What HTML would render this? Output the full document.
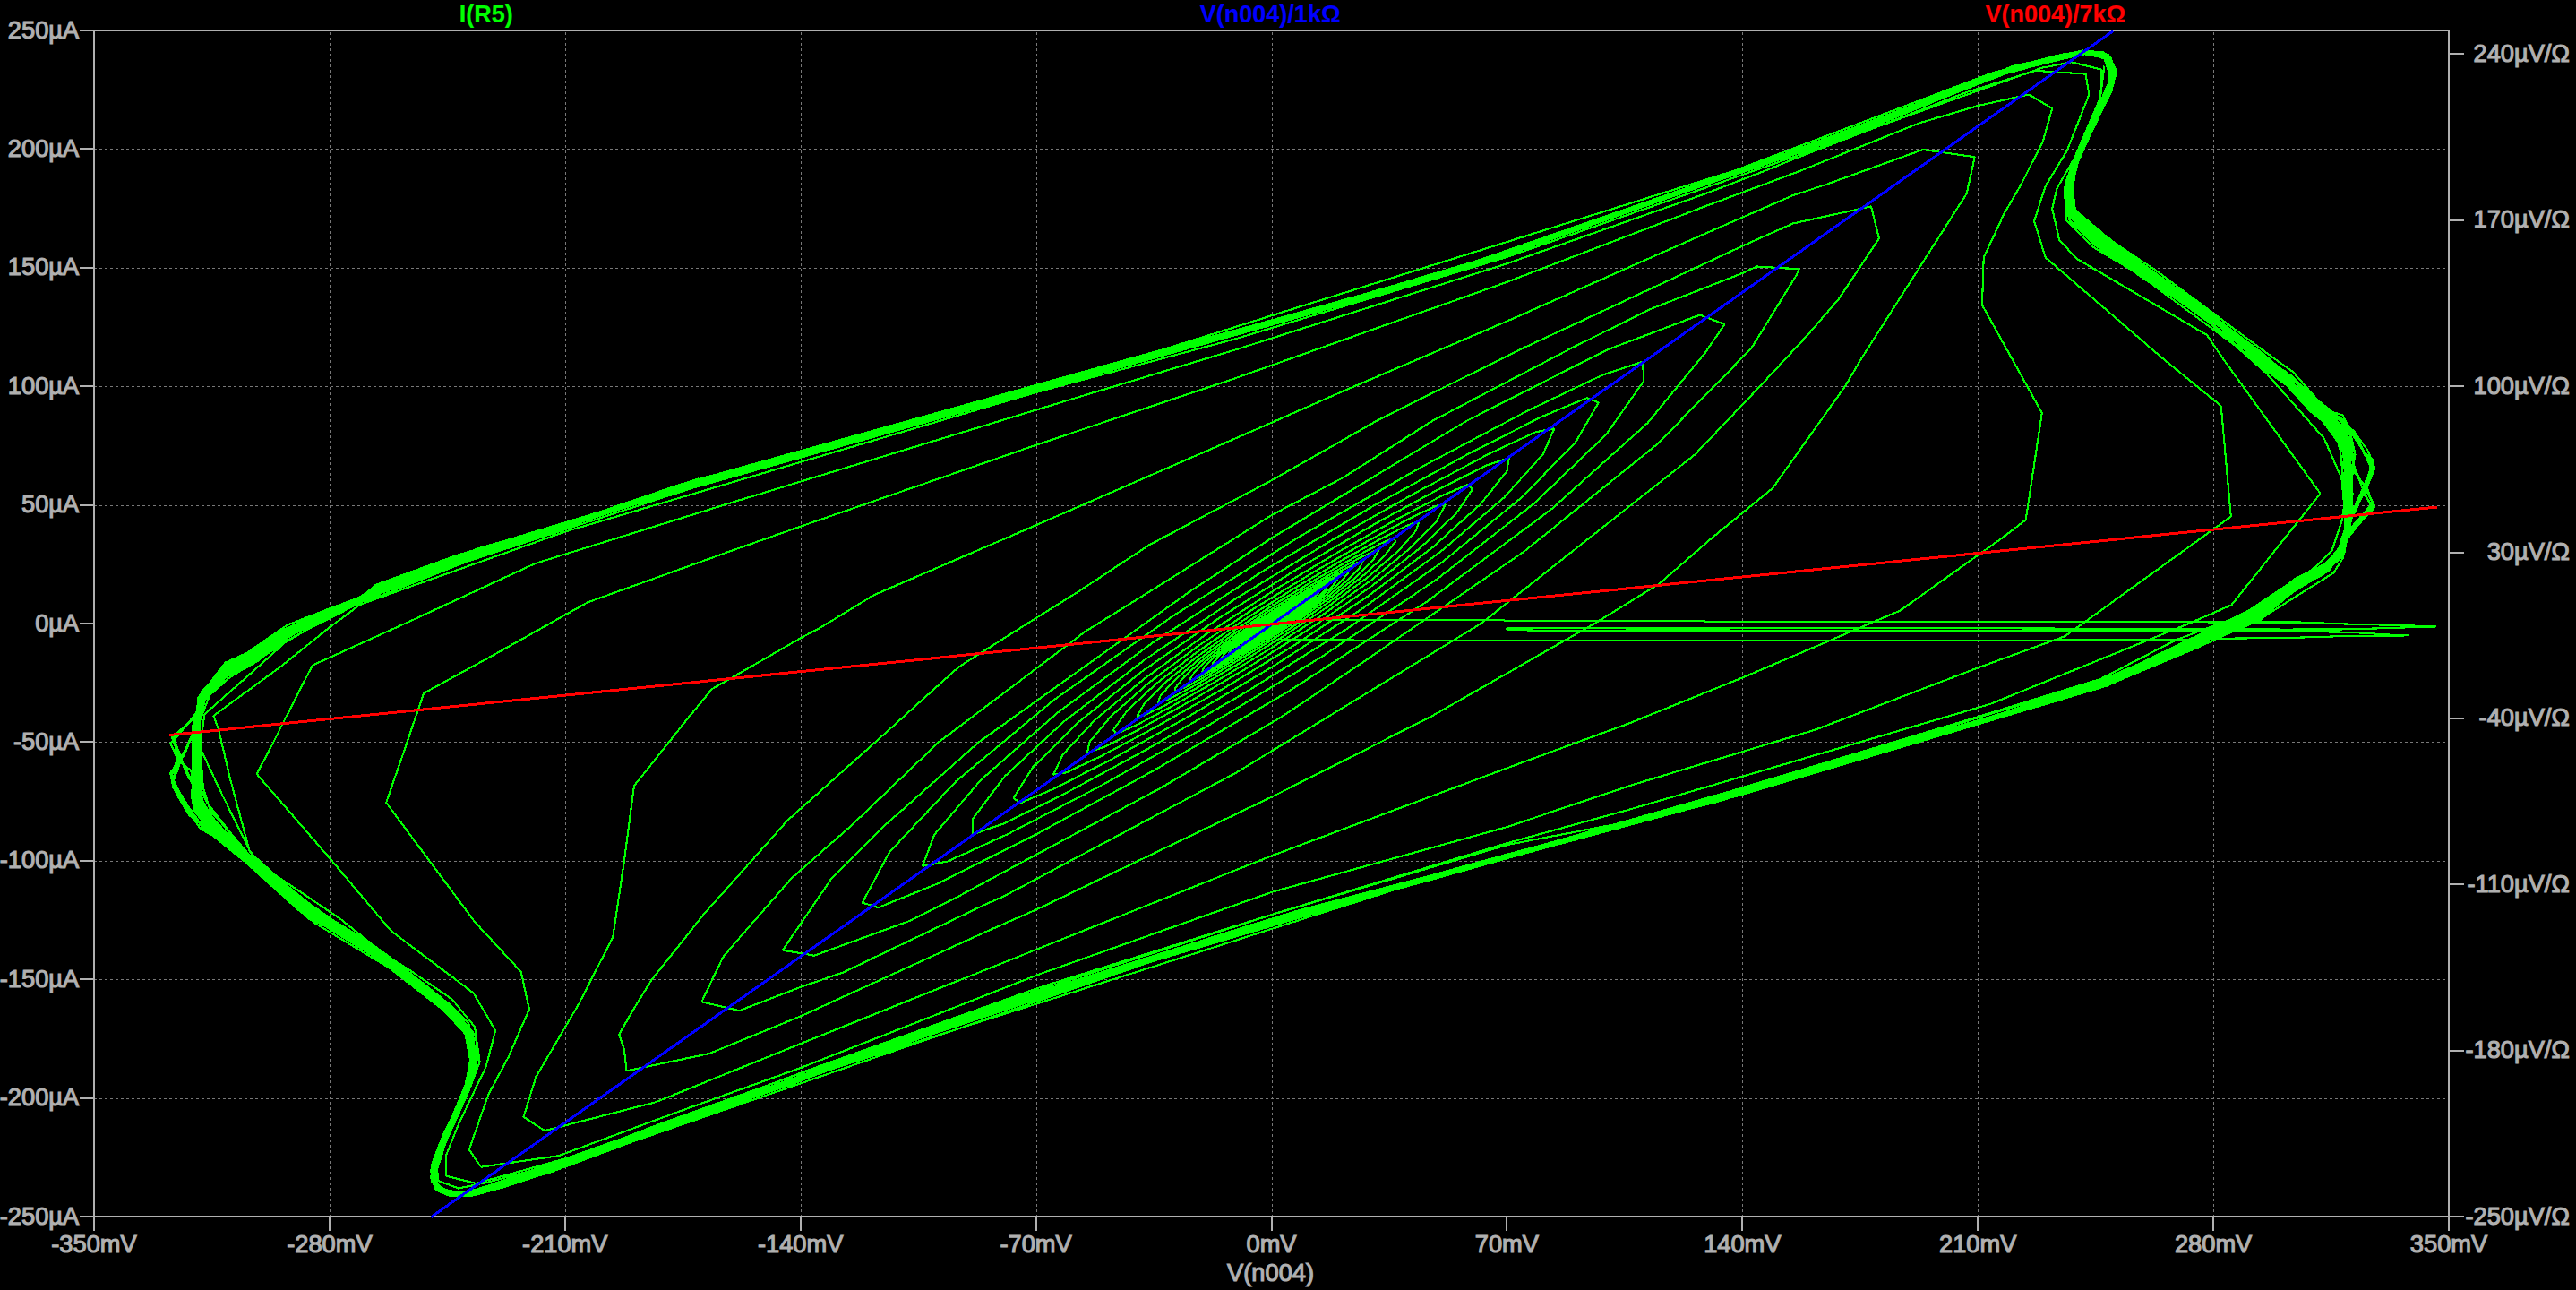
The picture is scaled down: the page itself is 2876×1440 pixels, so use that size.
<!DOCTYPE html>
<html lang="en"><head><meta charset="utf-8"><title>LTspice plot</title>
<style>html,body{margin:0;padding:0;background:#000;overflow:hidden}svg{display:block}text{font-family:"Liberation Sans",Arial,sans-serif;font-size:27.25px;fill:#b0b0b0;stroke:#b0b0b0;stroke-width:1.15px}.b{font-weight:bold;font-size:27px}.g{fill:none;stroke:#00ff00;stroke-width:2.15;stroke-linejoin:bevel;stroke-linecap:butt}</style></head><body>
<svg xmlns="http://www.w3.org/2000/svg" width="2876" height="1440" viewBox="0 0 2876 1440">
<rect width="2876" height="1440" fill="#000"/>
<g stroke="#787878" stroke-width="1" stroke-dasharray="3 3" shape-rendering="crispEdges">
<line x1="368.5" y1="36" x2="368.5" y2="1357"/>
<line x1="631.5" y1="36" x2="631.5" y2="1357"/>
<line x1="894.5" y1="36" x2="894.5" y2="1357"/>
<line x1="1157.5" y1="36" x2="1157.5" y2="1357"/>
<line x1="1420.5" y1="36" x2="1420.5" y2="1357"/>
<line x1="1682.5" y1="36" x2="1682.5" y2="1357"/>
<line x1="1945.5" y1="36" x2="1945.5" y2="1357"/>
<line x1="2208.5" y1="36" x2="2208.5" y2="1357"/>
<line x1="2471.5" y1="36" x2="2471.5" y2="1357"/>
<line x1="105" y1="1226.5" x2="2733" y2="1226.5"/>
<line x1="105" y1="1093.5" x2="2733" y2="1093.5"/>
<line x1="105" y1="961.5" x2="2733" y2="961.5"/>
<line x1="105" y1="828.5" x2="2733" y2="828.5"/>
<line x1="105" y1="696.5" x2="2733" y2="696.5"/>
<line x1="105" y1="564.5" x2="2733" y2="564.5"/>
<line x1="105" y1="431.5" x2="2733" y2="431.5"/>
<line x1="105" y1="299.5" x2="2733" y2="299.5"/>
<line x1="105" y1="166.5" x2="2733" y2="166.5"/>
</g>
<g stroke="#b0b0b0" stroke-width="2" shape-rendering="crispEdges" fill="none">
<rect x="105.0" y="34.0" width="2629.0" height="1324.0"/>
<line x1="89" y1="1358" x2="105" y2="1358"/>
<line x1="89" y1="1226" x2="105" y2="1226"/>
<line x1="89" y1="1093" x2="105" y2="1093"/>
<line x1="89" y1="961" x2="105" y2="961"/>
<line x1="89" y1="828" x2="105" y2="828"/>
<line x1="89" y1="696" x2="105" y2="696"/>
<line x1="89" y1="564" x2="105" y2="564"/>
<line x1="89" y1="431" x2="105" y2="431"/>
<line x1="89" y1="299" x2="105" y2="299"/>
<line x1="89" y1="166" x2="105" y2="166"/>
<line x1="89" y1="34" x2="105" y2="34"/>
<line x1="2734" y1="1358" x2="2751" y2="1358"/>
<line x1="2734" y1="1173" x2="2751" y2="1173"/>
<line x1="2734" y1="987" x2="2751" y2="987"/>
<line x1="2734" y1="802" x2="2751" y2="802"/>
<line x1="2734" y1="617" x2="2751" y2="617"/>
<line x1="2734" y1="431" x2="2751" y2="431"/>
<line x1="2734" y1="246" x2="2751" y2="246"/>
<line x1="2734" y1="60" x2="2751" y2="60"/>
<line x1="105" y1="1358" x2="105" y2="1374"/>
<line x1="368" y1="1358" x2="368" y2="1374"/>
<line x1="631" y1="1358" x2="631" y2="1374"/>
<line x1="894" y1="1358" x2="894" y2="1374"/>
<line x1="1157" y1="1358" x2="1157" y2="1374"/>
<line x1="1420" y1="1358" x2="1420" y2="1374"/>
<line x1="1682" y1="1358" x2="1682" y2="1374"/>
<line x1="1945" y1="1358" x2="1945" y2="1374"/>
<line x1="2208" y1="1358" x2="2208" y2="1374"/>
<line x1="2471" y1="1358" x2="2471" y2="1374"/>
<line x1="2734" y1="1358" x2="2734" y2="1374"/>
</g>
<g class="g" shape-rendering="crispEdges">
<path d="M1421.5 695.3 L1421.4 695.3 L1421.3 695.4 L1421.1 695.6 L1420.8 695.8 L1420.4 696.0 L1420.1 696.2 L1419.8 696.4 L1419.6 696.6 L1419.5 696.7 L1419.4 696.7 L1419.5 696.7 L1419.7 696.6 L1420.0 696.4 L1420.3 696.2 L1420.7 695.9 L1421.0 695.7 L1421.3 695.5 L1421.5 695.3 L1421.6 695.2 L1421.6 695.2 L1421.5 695.3 L1421.3 695.5 L1420.9 695.7 L1420.5 695.9 L1420.2 696.2 L1419.8 696.4 L1419.5 696.6 L1419.3 696.8 L1419.2 696.9 L1419.3 696.8 L1419.5 696.7 L1419.8 696.5 L1420.2 696.3 L1420.6 696.0 L1421.0 695.7 L1421.4 695.5 L1421.7 695.2 L1421.8 695.1 L1421.8 695.1 L1421.7 695.1 L1421.5 695.3 L1421.1 695.5 L1420.7 695.8 L1420.2 696.1 L1419.8 696.4 L1419.4 696.7 L1419.2 696.9 L1419.0 697.0 L1419.1 697.0 L1419.2 696.9 L1419.6 696.7 L1420.0 696.4 L1420.5 696.1 L1421.0 695.8 L1421.4 695.5 L1421.8 695.2 L1422.0 695.0 L1422.1 694.9 L1422.0 695.0 L1421.8 695.1 L1421.4 695.3 L1420.9 695.7 L1420.4 696.0 L1419.8 696.4 L1419.4 696.7 L1419.0 697.0 L1418.8 697.1 L1418.8 697.2 L1418.9 697.1 L1419.3 696.9 L1419.7 696.6 L1420.3 696.2 L1420.9 695.9 L1421.4 695.5 L1421.9 695.1 L1422.2 694.9 L1422.4 694.7 L1422.3 694.7 L1422.1 694.9 L1421.7 695.1 L1421.1 695.5 L1420.5 695.9 L1419.9 696.3 L1419.3 696.7 L1418.9 697.0 L1418.6 697.3 L1418.5 697.4 L1418.6 697.3 L1418.9 697.1 L1419.4 696.8 L1420.0 696.4 L1420.7 696.0 L1421.4 695.5 L1422.0 695.1 L1422.4 694.8 L1422.6 694.6 L1422.7 694.5 L1422.5 694.6 L1422.0 694.9 L1421.4 695.3 L1420.7 695.7 L1420.0 696.2 L1419.3 696.7 L1418.7 697.1 L1418.3 697.4 L1418.1 697.6 L1418.2 697.6 L1418.5 697.4 L1419.0 697.1 L1419.7 696.6 L1420.5 696.1 L1421.3 695.6 L1422.0 695.1 L1422.6 694.7 L1423.0 694.4 L1423.1 694.2 L1422.9 694.3 L1422.5 694.6 L1421.8 695.0 L1421.0 695.5 L1420.2 696.1 L1419.3 696.6 L1418.6 697.2 L1418.1 697.6 L1417.8 697.8 L1417.8 697.9 L1418.0 697.7 L1418.6 697.4 L1419.3 696.9 L1420.2 696.3 L1421.2 695.7 L1422.1 695.1 L1422.8 694.6 L1423.3 694.2 L1423.5 694.0 L1423.4 694.0 L1423.0 694.2 L1422.3 694.7 L1421.4 695.2 L1420.4 695.9 L1419.4 696.5 L1418.5 697.2 L1417.8 697.7 L1417.4 698.1 L1417.3 698.2 L1417.5 698.1 L1418.0 697.8 L1418.9 697.3 L1419.9 696.6 L1421.0 695.9 L1422.0 695.2 L1423.0 694.5 L1423.6 694.0 L1424.0 693.7 L1424.0 693.6 L1423.6 693.8 L1422.9 694.2 L1421.9 694.9 L1420.8 695.6 L1419.6 696.4 L1418.5 697.2 L1417.6 697.8 L1416.9 698.3 L1416.7 698.6 L1416.8 698.6 L1417.4 698.2 L1418.3 697.7 L1419.4 697.0 L1420.7 696.1 L1421.9 695.3 L1423.1 694.5 L1424.0 693.8 L1424.5 693.3 L1424.6 693.2 L1424.3 693.3 L1423.6 693.8 L1422.5 694.4 L1421.2 695.3 L1419.8 696.2 L1418.5 697.1 L1417.3 697.9 L1416.5 698.6 L1416.1 699.0 L1416.1 699.0 L1416.6 698.8 L1417.5 698.2 L1418.8 697.4 L1420.2 696.5 L1421.7 695.5 L1423.1 694.5 L1424.3 693.7 L1425.0 693.0 L1425.3 692.7 L1425.1 692.8 L1424.4 693.2 L1423.3 693.9 L1421.8 694.8 L1420.2 695.9 L1418.6 696.9 L1417.2 698.0 L1416.1 698.8 L1415.4 699.4 L1415.3 699.6 L1415.7 699.4 L1416.6 698.8 L1418.0 698.0 L1419.7 696.9 L1421.4 695.8 L1423.1 694.6 L1424.6 693.5 L1425.6 692.7 L1426.1 692.2 L1426.1 692.1 L1425.4 692.5 L1424.2 693.2 L1422.6 694.2 L1420.7 695.4 L1418.8 696.7 L1417.1 697.9 L1415.6 699.0 L1414.7 699.8 L1414.4 700.2 L1414.7 700.1 L1415.6 699.5 L1417.1 698.6 L1418.9 697.5 L1421.0 696.1 L1423.0 694.8 L1424.8 693.5 L1426.2 692.4 L1427.0 691.7 L1427.1 691.4 L1426.5 691.7 L1425.3 692.5 L1423.6 693.5 L1421.5 694.9 L1419.2 696.4 L1417.1 697.8 L1415.2 699.2 L1414.0 700.2 L1413.3 700.8 L1413.5 700.9 L1414.3 700.4 L1415.9 699.5 L1418.0 698.2 L1420.3 696.7 L1422.7 695.1 L1425.0 693.5 L1426.8 692.1 L1427.9 691.2 L1428.3 690.6 L1427.9 690.8 L1426.7 691.5 L1424.8 692.7 L1422.4 694.2 L1419.8 695.9 L1417.2 697.6 L1414.9 699.2 L1413.2 700.6 L1412.2 701.5 L1412.1 701.8 L1412.9 701.4 L1414.5 700.5 L1416.7 699.1 L1419.4 697.4 L1422.3 695.5 L1425.0 693.6 L1427.3 691.9 L1428.9 690.6 L1429.6 689.8 L1429.4 689.8 L1428.2 690.4 L1426.2 691.6 L1423.6 693.3 L1420.6 695.2 L1417.5 697.3 L1414.7 699.2 L1412.5 700.9 L1411.0 702.2 L1410.6 702.8 L1411.2 702.5 L1412.8 701.6 L1415.2 700.1 L1418.3 698.2 L1421.6 696.1 L1424.9 693.9 L1427.7 691.8 L1429.8 690.1 L1431.0 689.0 L1431.1 688.6 L1430.1 689.2 L1428.0 690.4 L1425.1 692.2 L1421.7 694.4 L1418.1 696.7 L1414.6 699.1 L1411.8 701.2 L1409.8 702.9 L1408.9 703.9 L1409.3 703.9 L1410.8 703.0 L1413.4 701.5 L1416.8 699.4 L1420.6 696.9 L1424.5 694.3 L1428.0 691.8 L1430.8 689.7 L1432.6 688.1 L1433.1 687.4 L1432.2 687.7 L1430.1 688.9 L1427.0 690.8 L1423.1 693.2 L1418.9 696.0 L1414.8 698.8 L1411.2 701.4 L1408.5 703.5 L1407.1 705.0 L1407.1 705.3 L1408.4 704.6 L1411.1 703.0 L1414.9 700.8 L1419.2 698.0 L1423.8 695.0 L1428.1 692.0 L1431.7 689.3 L1434.2 687.2 L1435.2 686.0 L1434.7 686.0 L1432.7 687.2 L1429.3 689.1 L1425.0 691.8 L1420.1 694.9 L1415.2 698.2 L1410.8 701.4 L1407.3 704.1 L1405.1 706.1 L1404.6 707.0 L1405.7 706.5 L1408.4 704.9 L1412.5 702.5 L1417.4 699.4 L1422.8 695.9 L1428.0 692.4 L1432.5 689.1 L1435.8 686.4 L1437.6 684.6 L1437.5 684.2 L1435.7 685.1 L1432.2 687.1 L1427.4 690.0 L1421.8 693.6 L1416.0 697.4 L1410.5 701.2 L1406.1 704.6 L1403.0 707.2 L1401.8 708.8 L1402.6 708.6 L1405.2 707.2 L1409.5 704.6 L1415.1 701.2 L1421.3 697.2 L1427.5 693.1 L1433.1 689.1 L1437.5 685.6 L1440.1 683.1 L1440.7 682.1 L1439.2 682.7 L1435.6 684.7 L1430.4 687.9 L1424.1 691.8 L1417.2 696.2 L1410.7 700.7 L1405.0 704.9 L1400.9 708.3 L1398.8 710.6 L1399.0 711.0 L1401.4 709.8 L1405.9 707.1 L1412.1 703.4 L1419.2 699.0 L1426.6 694.1 L1433.5 689.3 L1439.1 685.0 L1442.8 681.7 L1444.2 679.7 L1443.2 680.0 L1439.7 681.9 L1434.1 685.2 L1427.0 689.5 L1419.1 694.6 L1411.2 699.8 L1404.2 704.9 L1398.7 709.3 L1395.5 712.4 L1394.9 713.7 L1397.0 712.8 L1401.6 710.2 L1408.3 706.2 L1416.4 701.2 L1425.1 695.6 L1433.4 689.9 L1440.5 684.6 L1445.6 680.3 L1448.1 677.5 L1447.8 677.0 L1444.5 678.6 L1438.6 682.0 L1430.8 686.7 L1421.7 692.4 L1412.3 698.5 L1403.6 704.6 L1396.6 710.1 L1392.0 714.3 L1390.4 716.7 L1391.9 716.2 L1396.4 713.8 L1403.6 709.6 L1412.7 704.0 L1422.8 697.7 L1432.8 691.0 L1441.7 684.5 L1448.4 679.0 L1452.3 675.1 L1452.9 673.5 L1450.1 674.8 L1444.1 678.1 L1435.5 683.2 L1425.2 689.6 L1414.2 696.7 L1403.6 703.9 L1394.7 710.6 L1388.4 716.0 L1385.4 719.6 L1386.0 720.2 L1390.3 718.0 L1397.9 713.7 L1408.0 707.6 L1419.6 700.4 L1431.5 692.6 L1442.4 684.9 L1451.2 678.0 L1456.8 672.7 L1458.7 669.7 L1456.6 670.4 L1450.7 673.6 L1441.4 678.9 L1429.7 686.0 L1416.9 694.1 L1404.3 702.6 L1393.1 710.7 L1384.7 717.7 L1380.0 722.7 L1379.4 724.5 L1383.2 722.9 L1391.0 718.5 L1402.1 712.0 L1415.3 703.9 L1429.2 694.9 L1442.5 685.8 L1453.7 677.3 L1461.5 670.4 L1465.2 665.9 L1464.1 665.4 L1458.4 668.2 L1448.6 673.8 L1435.6 681.5 L1420.9 690.7 L1405.8 700.5 L1392.1 710.3 L1381.1 719.0 L1374.1 725.7 L1372.0 729.4 L1374.9 728.5 L1382.7 724.3 L1394.7 717.4 L1409.6 708.5 L1425.8 698.2 L1441.8 687.4 L1455.8 677.1 L1466.3 668.3 L1472.1 662.0 L1472.6 659.8 L1467.5 662.0 L1457.3 667.6 L1443.1 675.9 L1426.3 686.2 L1408.5 697.6 L1391.7 709.2 L1377.7 719.9 L1368.0 728.7 L1363.7 734.4 L1365.4 734.9 L1372.9 731.1 L1385.6 724.0 L1402.2 714.2 L1421.0 702.5 L1440.1 690.0 L1457.4 677.6 L1471.1 666.6 L1479.6 658.0 L1482.1 653.5 L1478.1 654.8 L1467.9 660.2 L1452.5 669.0 L1433.4 680.4 L1412.7 693.5 L1392.4 707.2 L1374.7 720.3 L1361.6 731.5 L1354.5 739.6 L1354.3 742.2 L1361.1 739.2 L1374.3 732.0 L1392.7 721.4 L1414.3 708.2 L1436.9 693.6 L1458.2 678.8 L1475.9 665.1 L1488.0 653.9 L1493.2 646.6 L1490.7 646.3 L1480.7 651.3 L1464.2 660.5 L1442.8 673.1 L1418.7 688.0 L1394.3 704.1 L1372.3 719.9 L1355.1 734.0 L1344.5 744.8 L1341.8 750.4 L1347.4 748.5 L1360.9 741.5 L1380.8 730.1 L1405.3 715.5 L1431.8 698.8 L1457.6 681.4 L1479.8 664.7 L1496.1 650.4 L1504.7 640.2 L1504.5 637.2 L1495.5 641.1 L1478.3 650.4 L1454.7 664.0 L1427.0 680.8 L1398.1 699.4 L1371.1 718.3 L1348.8 735.8 L1333.8 750.1 L1327.6 759.4 L1331.2 759.4 L1344.3 753.0 L1365.8 741.1 L1393.4 724.9 L1424.5 705.8 L1455.6 685.2 L1483.6 664.9 L1505.5 646.7 L1518.7 632.8 L1521.7 625.9 L1513.9 628.6 L1496.2 637.8 L1470.1 652.5 L1438.4 671.4 L1404.2 692.9 L1371.2 715.4 L1342.8 736.8 L1322.3 755.2 L1311.8 768.2 L1312.6 771.7 L1324.9 766.3 L1347.5 754.2 L1378.3 736.5 L1414.0 715.0 L1451.0 691.1 L1485.4 666.9 L1513.5 644.6 L1532.1 626.4 L1539.3 614.6 L1534.0 615.1 L1516.5 623.6 L1488.6 639.0 L1453.0 659.7 L1413.5 684.0 L1374.0 710.1 L1338.8 735.9 L1311.7 758.9 L1295.7 776.5 L1292.7 784.8 L1303.1 781.2 L1326.2 769.3 L1359.6 750.6 L1400.0 726.7 L1443.3 699.6 L1484.8 671.2 L1520.2 644.1 L1545.6 620.8 L1558.1 604.3 L1556.4 600.3 L1540.2 607.3 L1511.1 622.8 L1471.8 645.1 L1426.4 672.4 L1379.5 702.6 L1336.1 733.3 L1301.0 761.8 L1277.8 785.0 L1269.4 799.7 L1276.8 798.8 L1299.6 787.9 L1335.7 768.2 L1381.4 741.8 L1432.1 710.7 L1482.4 677.3 L1527.1 644.3 L1561.3 614.8 L1581.2 592.1 L1584.3 581.9 L1570.1 586.9 L1539.8 602.4 L1496.3 626.5 L1444.1 657.3 L1388.4 692.2 L1335.3 728.7 L1290.3 763.6 L1258.3 793.5 L1243.0 814.7 L1246.3 819.1 L1268.1 809.7 L1306.4 789.5 L1357.4 760.7 L1416.0 725.5 L1476.0 686.8 L1531.2 647.4 L1575.5 611.0 L1604.2 581.3 L1613.8 563.0 L1603.1 564.7 L1572.8 579.2 L1525.9 604.5 L1467.2 638.3 L1402.5 677.8 L1338.8 720.3 L1282.7 762.1 L1240.4 799.5 L1216.5 828.1 L1213.8 840.3 L1233.0 833.7 L1272.3 813.9 L1327.9 783.3 L1394.3 744.5 L1464.4 700.5 L1530.9 654.6 L1586.8 610.6 L1626.0 572.8 L1644.0 546.0 L1638.8 541.0 L1610.4 553.1 L1561.4 578.6 L1496.5 614.8 L1422.4 659.0 L1346.8 707.9 L1277.6 757.6 L1222.3 803.9 L1187.0 841.8 L1175.9 864.6 L1190.5 862.3 L1229.8 843.8 L1290.0 811.8 L1365.2 769.0 L1447.5 718.7 L1528.5 664.6 L1599.5 611.0 L1652.8 562.9 L1682.4 526.0 L1684.7 510.9 L1659.0 519.8 L1607.6 545.3 L1535.4 584.6 L1449.8 634.3 L1359.6 690.9 L1274.2 750.1 L1202.9 807.1 L1153.4 856.1 L1131.4 890.9 L1139.7 896.2 L1177.8 880.0 L1242.4 846.8 L1327.0 799.8 L1423.0 742.8 L1520.3 679.8 L1608.8 615.5 L1678.9 555.7 L1722.8 506.9 L1735.3 478.4 L1714.4 482.3 L1662.1 506.7 L1583.4 548.4 L1486.2 603.4 L1380.6 667.7 L1277.6 736.8 L1188.1 805.2 L1121.9 866.5 L1086.3 913.6 L1085.6 931.5 L1120.3 919.5 L1187.3 886.7 L1280.1 836.7 L1389.1 773.8 L1503.2 702.4 L1610.2 627.5 L1698.8 555.4 L1759.2 493.4 L1784.7 449.3 L1771.9 444.1 L1721.7 465.0 L1638.9 506.9 L1531.8 565.6 L1411.3 636.7 L1290.0 715.2 L1180.8 795.5 L1095.3 870.4 L1043.1 931.8 L1030.0 966.8 L1058.1 961.5 L1124.9 931.2 L1224.1 879.8 L1345.4 812.0 L1476.5 732.6 L1603.6 647.0 L1713.1 561.7 L1793.3 484.9 L1835.1 425.5 L1834.2 403.7 L1789.6 418.4 L1705.1 458.7 L1588.8 520.3 L1452.5 598.1 L1310.3 687.1 L1177.2 780.9 L1067.5 872.0 L993.2 951.0 L962.8 1007.6 L980.5 1013.1 L1045.2 987.0 L1150.9 934.5 L1287.1 860.7 L1440.0 771.0 L1593.6 671.2 L1731.7 568.7 L1839.3 472.3 L1904.5 392.9 L1905.5 391.3 L1925.4 362.0 L1897.8 351.5 L1840.3 373.2 L1795.3 390.0 L1637.1 470.0 L1500.0 552.4 L1420.6 600.0 L1328.8 660.0 L1092.8 828.4 L988.4 920.9 L928.8 980.0 L873.8 1060.6 L909.0 1066.7 L1015.4 1028.0 L1071.3 1000.0 L1100.0 984.5 L1295.7 879.7 L1431.2 800.0 L1526.8 735.7 L1701.8 615.5 L1849.9 496.1 L1955.0 389.2 L2005.2 307.9 L2008.8 299.9"/>
<path d="M2008.8 299.9 L1994.0 299.5 L1961.4 297.5 L1945.4 304.9 L1841.9 345.3 L1751.8 390.0 L1598.9 470.0 L1500.0 532.9 L1420.6 574.5 L1284.1 660.0 L1212.0 704.7 L1048.1 828.4 L951.2 920.9 L884.1 980.0 L820.0 1053.3 L807.1 1068.6 L783.4 1118.3 L825.3 1128.2 L894.3 1101.6 L940.9 1085.7 L1100.0 1009.6 L1121.6 1000.0 L1379.5 862.9 L1482.9 800.0 L1653.5 696.0 L1892.0 507.7 L1966.6 429.4 L2016.3 376.0 L2053.1 333.5 L2097.9 266.1 L2089.1 230.4"/>
<path d="M2089.1 230.4 L2001.8 249.5 L1945.4 274.6 L1697.5 390.0 L1536.5 470.0 L1500.0 490.9 L1420.6 535.7 L1283.1 608.3 L1204.6 660.0 L1140.6 700.0 L1070.4 744.5 L977.3 828.4 L879.1 915.9 L822.0 980.0 L787.6 1018.3 L727.5 1093.8 L706.1 1128.6 L691.2 1154.7 L696.8 1171.4 L699.6 1195.3 L791.8 1176.1 L894.3 1134.2 L1100.0 1040.4 L1160.0 1014.0 L1420.3 889.4 L1597.5 800.0 L1780.2 696.0 L1852.3 651.8 L1911.8 600.0 L1979.0 545.0 L2060.0 431.2 L2078.3 400.0 L2195.7 216.1 L2204.7 175.2"/>
<path d="M2204.7 175.2 L2146.9 167.0 L2040.0 205.5 L2000.6 218.6 L1900.0 262.4 L1682.4 358.6 L1500.0 436.4 L1420.6 471.4 L1157.3 586.0 L975.7 664.2 L917.0 700.0 L894.0 712.2 L794.7 769.3 L768.0 801.8 L724.7 856.3 L707.9 877.2 L696.7 962.4 L684.2 1046.3 L646.0 1121.0 L598.4 1202.1 L584.5 1246.8 L608.2 1262.2 L732.6 1230.1 L894.3 1164.9 L1160.0 1058.7 L1420.3 955.1 L1682.8 857.3 L1820.0 807.0 L1945.3 756.5 L2121.4 681.6 L2236.0 600.0 L2261.7 580.3 L2279.8 460.9 L2246.0 400.0 L2213.0 340.5 L2214.7 287.4 L2237.6 238.4 L2257.1 204.9 L2280.9 157.4 L2291.2 121.1 L2265.2 105.5"/>
<path d="M2265.2 105.5 L2208.4 118.0 L2142.2 137.6 L2011.9 190.0 L1900.0 231.7 L1682.4 314.8 L1380.0 421.9 L1157.3 496.5 L894.6 587.4 L820.0 613.6 L656.2 672.3 L547.2 733.3 L473.1 773.8 L452.2 835.3 L431.2 895.9 L530.4 1029.5 L581.7 1084.7 L590.9 1126.6 L567.7 1179.8 L545.3 1221.7 L523.8 1283.2 L537.0 1302.7 L623.6 1290.2 L760.1 1240.0 L894.3 1191.9 L1160.0 1087.6 L1420.3 995.7 L1682.8 923.0 L1820.0 876.9 L2026.4 814.7 L2208.6 745.3 L2305.5 710.2 L2490.8 576.6 L2479.7 453.1 L2414.5 400.0 L2283.7 287.4 L2271.1 246.8 L2283.7 207.7 L2307.5 168.6 L2332.3 105.9 L2328.6 82.6 L2272.7 78.9"/>
<path d="M2272.7 78.9 L2195.7 102.9 L2000.0 178.6 L1972.3 190.0 L1900.0 217.7 L1682.4 294.3 L1380.0 390.2 L1157.3 457.4 L820.0 560.0 L597.5 629.0 L455.0 694.7 L348.8 742.7 L323.6 792.0 L304.0 831.0 L286.7 864.0 L368.3 958.2 L436.8 1039.3 L528.6 1108.5 L553.2 1150.4 L542.5 1190.9 L511.8 1255.2 L497.8 1290.2 L497.8 1312.5 L531.4 1320.9 L567.7 1311.1 L632.0 1293.0 L782.5 1240.0 L894.3 1197.5 L1160.0 1102.5 L1420.3 1020.8 L1682.8 941.1 L1820.0 903.4 L2222.0 785.9 L2442.9 696.4 L2491.4 675.3 L2590.6 550.9 L2481.6 400.0 L2464.0 374.0 L2318.6 288.8 L2299.1 267.8 L2291.2 232.9 L2296.3 210.5 L2315.8 177.0 L2345.2 108.5 L2346.6 77.7 L2313.0 69.3"/>
<path d="M2313.0 69.3 L2279.5 75.8 L2195.0 106.0 L2000.0 176.0 L1900.0 211.0 L1682.4 287.0 L1380.0 378.1 L1157.3 437.8 L820.0 537.6 L631.0 593.5 L460.5 654.0 L401.9 675.0 L368.3 700.0 L313.7 743.9 L238.4 799.0 L243.9 813.7 L256.5 867.4 L278.9 951.2 L306.8 976.4 L379.5 1025.3 L429.8 1065.8 L455.9 1081.9 L504.8 1115.5 L530.0 1146.2 L535.6 1185.3 L523.0 1218.9 L497.8 1274.8 L488.0 1305.5 L489.4 1318.1 L511.8 1326.5 L545.3 1319.5 L623.6 1298.5 L735.4 1255.2 L894.7 1198.0 L1160.0 1105.0 L1420.0 1021.0 L1683.0 943.0 L1820.0 917.0 L2208.6 800.0 L2345.0 758.0 L2428.9 714.6 L2499.8 687.9 L2547.3 659.9 L2586.4 632.0 L2603.2 615.2 L2614.4 581.7 L2617.2 564.9 L2614.4 534.2 L2594.8 489.4 L2530.5 416.8 L2511.5 400.0 L2458.4 353.0 L2391.3 308.3 L2335.4 274.8 L2307.5 246.8 L2304.7 210.5 L2315.8 179.8 L2343.8 118.3 L2349.4 73.5"/>
<path d="M426.0 660.0 L369.0 688.0 L318.0 717.3 L299.8 734.0 L262.0 767.6 L228.5 797.0 L223.0 833.8 L245.3 881.4 L278.9 949.8 L300.0 975.0"/>
<path d="M818.2 526.7 L1297.0 392.5 L1652.2 292.7 L1971.7 180.6 L2134.7 120.7 L2240.0 79.0 L2294.2 65.0 L2336.7 58.8 L2352.9 65.6 L2358.5 77.2 L2358.3 93.1 L2340.7 129.8 L2314.5 189.2 L2309.4 200.6 L2317.7 246.2 L2351.7 271.8 L2390.1 297.8 L2533.3 405.3 L2551.6 414.5 L2582.0 441.2 L2606.0 466.0 L2623.2 489.6 L2627.1 509.1 L2625.4 562.2 L2625.0 580.6 L2621.1 597.8 L2617.3 612.9 L2597.1 630.9 L2552.7 662.7 L2532.5 682.3 L2367.6 758.6 L2167.0 819.9 L1789.5 927.6 L1706.0 950.2 L1582.3 983.5 L1411.3 1029.6 L1199.5 1097.6 L987.2 1168.1 L888.3 1206.1 L613.5 1307.4 L565.0 1322.0 L528.9 1333.0 L503.2 1333.4 L490.5 1329.9 L483.0 1316.8 L482.5 1303.7 L498.6 1264.6 L522.0 1214.6 L527.3 1193.8 L519.2 1147.0 L489.3 1117.3 L443.4 1084.2 L405.2 1054.0 L341.5 1020.1 L293.0 974.3 L268.5 949.2 L237.3 921.5 L224.2 897.2 L219.4 880.8 L221.8 858.9 L218.8 834.1 L216.3 814.3 L223.6 789.6 L228.2 773.7 L251.3 748.8 L273.6 740.5 L313.1 714.0 L402.4 670.9 L423.5 661.6 L503.0 626.4 L607.3 592.1 L774.6 539.1"/>
<path d="M752.7 545.5 L1190.1 423.2 L1294.3 392.8 L1379.5 370.2 L1515.1 333.4 L1631.2 297.5 L1675.4 283.9 L1899.4 205.5 L2028.9 160.7 L2080.2 140.6 L2245.9 74.4 L2290.7 64.1 L2325.0 56.5 L2348.9 58.5 L2359.1 77.2 L2359.5 93.3 L2341.2 131.2 L2315.5 186.9 L2308.7 212.0 L2314.3 238.7 L2335.6 255.5 L2462.6 346.3 L2528.8 399.1 L2560.1 422.1 L2578.3 445.6 L2596.7 465.1 L2618.9 494.1 L2623.4 508.6 L2620.5 536.3 L2622.5 579.6 L2610.0 619.7 L2592.3 633.4 L2560.1 652.9 L2523.1 681.1 L2453.6 720.2 L2360.8 760.0 L1970.2 877.8 L1666.4 960.2 L1527.1 999.1 L1176.4 1104.4 L998.5 1163.0 L906.6 1199.7 L599.5 1310.3 L566.5 1320.8 L521.8 1333.4 L498.8 1333.1 L489.7 1328.4 L484.2 1316.6 L484.4 1301.3 L493.3 1271.5 L523.9 1208.4 L527.6 1185.4 L523.3 1155.3 L490.4 1118.3 L359.1 1027.3 L303.1 985.8 L274.4 957.3 L232.7 924.8 L217.3 905.4 L213.7 887.9 L217.1 861.0 L215.2 814.3 L221.0 792.9 L228.2 772.1 L252.8 742.0 L284.9 730.8 L317.9 705.3 L363.6 688.0 L422.9 659.8 L531.0 615.8 L604.7 594.3 L736.5 550.7"/>
<path d="M823.0 528.4 L1178.0 427.7 L1355.1 378.3 L1632.3 297.8 L1927.1 196.5 L1990.0 175.6 L2107.7 132.7 L2246.3 76.3 L2288.6 67.2 L2328.7 59.1 L2348.8 61.1 L2357.6 75.1 L2352.7 99.1 L2334.8 138.8 L2315.4 183.2 L2307.8 216.9 L2307.8 237.7 L2342.7 274.5 L2413.1 323.2 L2478.8 364.7 L2525.2 408.6 L2541.8 420.2 L2601.1 471.8 L2619.4 494.3 L2619.1 506.4 L2618.5 533.0 L2621.2 562.7 L2620.4 578.8 L2617.4 592.8 L2611.7 611.3 L2598.7 628.5 L2511.4 692.0 L2449.1 718.0 L2331.8 768.5 L1845.2 909.8 L1683.0 954.9 L1527.3 999.4 L1412.0 1030.2 L1143.0 1115.2 L986.2 1167.6 L717.2 1266.9 L523.5 1330.7 L499.4 1329.7 L490.2 1326.5 L486.0 1315.1 L486.7 1299.4 L522.3 1217.4 L529.1 1193.6 L529.1 1159.0 L495.7 1120.6 L456.5 1089.4 L392.0 1043.9 L335.0 1004.5 L270.1 947.8 L245.3 923.0 L227.8 899.2 L223.2 882.2 L223.0 830.1 L218.6 821.1 L221.9 794.3 L226.2 774.9 L244.2 750.1 L280.2 735.2 L321.9 709.0 L363.9 689.1 L430.8 655.3 L614.2 592.2 L794.0 534.5"/>
<path d="M801.9 530.6 L1379.2 371.6 L1688.4 279.3 L1878.1 212.1 L2116.6 128.1 L2253.5 74.9 L2301.3 62.8 L2328.6 57.4 L2355.3 65.9 L2360.1 78.4 L2358.0 96.2 L2316.0 186.9 L2310.8 214.7 L2311.1 234.2 L2349.1 271.4 L2388.8 295.7 L2470.0 353.1 L2558.5 423.9 L2582.0 441.7 L2597.2 463.7 L2622.1 490.4 L2623.1 505.0 L2624.1 535.8 L2622.9 555.8 L2621.6 577.9 L2619.0 598.9 L2611.3 619.7 L2591.7 640.6 L2550.8 663.7 L2511.0 690.3 L2442.9 719.2 L2342.7 764.8 L1908.7 895.0 L1842.5 913.3 L1588.8 983.5 L1149.7 1113.7 L912.0 1199.4 L626.2 1303.1 L559.4 1324.9 L526.0 1333.6 L499.6 1331.4 L489.2 1327.4 L484.9 1317.0 L482.7 1306.5 L497.6 1267.9 L521.0 1215.7 L528.2 1175.5 L526.7 1157.8 L496.3 1126.9 L438.7 1080.8 L349.9 1025.8 L299.6 979.9 L277.4 957.0 L235.1 921.7 L216.5 901.9 L217.7 880.6 L216.5 863.4 L214.8 835.4 L217.7 815.0 L222.0 795.7 L228.8 771.7 L253.4 740.3 L277.2 730.5 L313.4 706.8 L365.1 686.4 L398.2 669.5 L423.3 656.5 L492.9 630.9 L663.6 574.7 L735.9 550.5"/>
<path d="M785.9 536.7 L1196.1 420.5 L1296.1 392.3 L1382.1 370.8 L1492.3 340.2 L1632.2 297.8 L1694.3 278.4 L1890.2 210.4 L2251.0 75.7 L2324.9 58.2 L2348.1 60.4 L2356.6 79.5 L2353.8 97.8 L2335.2 138.0 L2316.6 180.3 L2310.7 207.4 L2316.0 248.7 L2342.3 271.8 L2384.8 301.3 L2524.2 401.3 L2551.6 426.2 L2585.2 453.7 L2597.7 468.8 L2618.4 492.0 L2616.9 508.6 L2621.9 573.0 L2617.4 600.3 L2611.2 612.4 L2597.4 628.8 L2561.6 646.6 L2516.8 682.1 L2458.3 710.6 L2340.5 761.6 L2242.4 794.5 L1524.0 999.8 L1436.0 1022.3 L1167.6 1105.8 L916.9 1194.6 L758.8 1249.8 L612.6 1305.8 L569.9 1318.9 L517.5 1333.8 L503.4 1331.3 L489.7 1326.0 L485.4 1315.0 L486.2 1303.5 L500.4 1268.3 L522.0 1217.8 L531.4 1177.4 L526.3 1151.8 L491.9 1116.4 L462.3 1094.1 L394.6 1043.0 L353.8 1017.5 L273.8 953.1 L237.6 921.0 L226.6 903.9 L220.1 885.1 L219.8 866.2 L221.5 833.0 L220.3 812.7 L222.9 790.9 L227.4 781.5 L250.6 757.2 L287.9 734.1 L317.3 708.5 L407.5 669.5 L428.0 658.3 L488.8 632.1 L630.8 585.8 L778.2 541.1"/>
<path d="M815.9 527.9 L1145.5 436.0 L1310.2 388.1 L1635.2 297.1 L1926.3 197.0 L1983.0 175.8 L2244.8 75.7 L2292.3 64.7 L2331.2 58.2 L2350.9 60.9 L2359.0 81.7 L2356.7 98.8 L2337.2 143.0 L2318.1 183.0 L2313.9 210.9 L2314.6 233.7 L2335.6 258.5 L2558.4 422.8 L2590.1 452.4 L2605.9 466.0 L2622.6 489.1 L2623.1 508.0 L2622.5 537.0 L2623.2 572.2 L2619.9 595.7 L2612.0 618.5 L2597.8 632.4 L2564.4 654.7 L2533.2 681.2 L2441.4 724.4 L2377.6 753.0 L2252.9 794.8 L1950.3 884.2 L1852.3 909.9 L1679.7 956.7 L1586.4 983.9 L1436.3 1025.5 L1179.1 1105.0 L916.8 1197.7 L570.0 1319.7 L517.2 1333.6 L503.1 1333.3 L492.2 1329.3 L482.6 1314.7 L482.2 1303.4 L521.9 1206.1 L527.8 1180.4 L525.1 1158.3 L501.2 1129.6 L435.4 1077.1 L384.0 1042.7 L344.1 1025.3 L305.7 988.5 L266.7 948.8 L241.1 922.8 L220.6 899.5 L216.3 881.2 L215.1 816.1 L219.7 793.6 L227.6 771.7 L247.2 745.2 L279.0 728.3 L315.5 703.4 L360.4 682.7 L407.0 664.4 L422.0 653.2 L535.8 611.7 L646.3 579.8 L763.0 539.5"/>
<path d="M763.9 541.4 L1121.1 440.9 L1354.4 376.8 L1633.5 296.6 L1912.2 199.8 L2223.7 81.6 L2295.9 62.1 L2327.3 57.6 L2356.2 65.1 L2362.0 81.6 L2356.3 102.1 L2343.2 126.7 L2319.7 181.7 L2314.5 201.9 L2315.7 234.8 L2341.4 258.3 L2405.8 301.0 L2527.4 391.7 L2560.2 415.3 L2587.6 446.6 L2606.8 461.9 L2624.5 484.9 L2629.5 507.2 L2625.4 531.5 L2626.5 551.4 L2624.8 576.9 L2616.9 619.3 L2598.2 636.5 L2550.4 667.2 L2519.8 690.7 L2455.6 721.6 L2339.5 769.4 L1945.7 886.8 L1703.5 952.3 L1597.5 982.1 L1442.6 1023.9 L1153.3 1113.6 L979.3 1171.5 L904.9 1202.0 L720.4 1267.0 L600.5 1312.6 L558.1 1326.4 L524.8 1334.5 L500.5 1334.2 L490.1 1329.8 L482.2 1318.8 L481.6 1302.2 L519.6 1211.2 L524.9 1185.7 L523.1 1154.4 L488.5 1121.5 L460.6 1096.4 L389.6 1046.4 L350.4 1025.5 L301.7 984.0 L266.9 949.2 L238.4 926.2 L220.9 902.1 L217.8 880.8 L215.6 861.8 L215.1 810.7 L220.3 797.2 L225.3 773.1 L254.5 738.5 L271.3 737.9 L313.3 708.9 L362.7 682.3 L395.9 671.7 L424.3 651.0 L505.9 622.3 L654.3 576.9 L789.8 532.2"/>
<path d="M798.3 535.6 L1313.6 389.3 L1360.0 378.4 L1680.0 284.8 L1874.1 215.8 L2240.5 81.9 L2301.9 65.2 L2330.7 58.7 L2351.9 65.4 L2357.6 84.7 L2350.7 100.5 L2334.7 138.0 L2318.6 174.1 L2309.0 202.5 L2311.1 238.1 L2335.3 267.5 L2447.3 341.6 L2524.8 410.1 L2553.3 430.4 L2579.6 459.3 L2602.1 477.3 L2609.4 490.9 L2613.0 503.5 L2615.4 528.2 L2618.7 558.9 L2619.7 577.3 L2617.7 595.7 L2614.0 610.8 L2589.4 635.2 L2551.2 659.1 L2525.8 676.2 L2464.1 709.5 L2386.4 747.4 L2216.9 802.4 L1832.9 912.4 L1646.5 964.2 L1580.0 982.0 L1446.2 1017.3 L1115.5 1121.2 L1008.7 1157.8 L885.6 1206.4 L755.8 1250.4 L602.4 1306.9 L520.4 1330.9 L502.1 1329.3 L491.9 1325.9 L485.7 1316.0 L486.5 1303.3 L496.8 1271.1 L523.3 1214.9 L532.6 1191.9 L523.6 1143.0 L504.6 1123.3 L437.9 1070.4 L414.0 1053.1 L356.6 1017.8 L301.5 973.3 L270.2 947.2 L251.3 921.8 L230.9 895.7 L224.2 880.1 L223.8 859.4 L220.9 837.4 L219.1 815.4 L234.1 776.0 L258.3 754.5 L287.2 738.3 L322.7 710.8 L360.5 690.6 L425.6 660.8 L521.9 626.6 L814.8 531.1"/>
<path d="M773.4 538.5 L1141.8 434.8 L1295.1 391.3 L1359.4 374.8 L1642.7 294.4 L1695.2 276.9 L1891.4 208.2 L1978.4 177.5 L2132.8 120.3 L2239.7 77.4 L2291.7 65.0 L2331.0 56.9 L2356.5 63.9 L2362.4 83.3 L2357.8 97.2 L2341.2 129.7 L2317.8 181.4 L2313.6 207.9 L2316.5 236.8 L2339.1 261.8 L2454.6 341.0 L2526.9 394.9 L2560.1 424.0 L2596.9 464.0 L2620.9 490.8 L2623.3 506.1 L2622.7 556.6 L2624.5 574.0 L2619.5 599.8 L2610.7 620.2 L2592.1 641.3 L2554.9 662.6 L2525.2 691.2 L2376.5 754.8 L2241.5 798.2 L1810.9 921.4 L1660.2 963.1 L1588.2 982.8 L1390.9 1039.1 L1200.9 1097.3 L907.3 1199.6 L615.5 1308.2 L566.0 1322.6 L526.7 1334.6 L502.2 1334.0 L487.0 1326.9 L481.4 1315.3 L482.6 1298.5 L492.1 1273.7 L523.5 1207.4 L526.7 1194.3 L519.5 1148.9 L492.9 1122.1 L403.5 1057.9 L332.3 1014.7 L277.5 962.0 L234.7 928.3 L218.0 900.3 L218.8 883.3 L218.3 854.2 L216.0 832.4 L215.1 816.6 L219.8 794.6 L221.5 778.3 L244.7 751.5 L278.6 732.7 L315.0 705.7 L364.4 681.6 L396.9 669.6 L417.1 656.4 L662.9 574.1 L767.7 539.9"/>
<path d="M763.6 543.9 L1276.5 397.7 L1376.2 373.2 L1484.7 342.7 L1652.4 291.4 L1678.2 283.7 L1973.3 181.7 L2140.9 120.0 L2253.8 73.5 L2328.9 58.8 L2355.4 67.3 L2355.8 75.9 L2353.7 95.5 L2339.4 128.6 L2318.3 175.7 L2309.3 212.9 L2310.8 233.0 L2343.9 270.0 L2483.2 364.3 L2517.9 399.2 L2556.3 428.1 L2587.7 453.6 L2602.9 466.0 L2618.8 494.4 L2620.9 510.2 L2620.5 553.3 L2623.1 574.3 L2620.2 597.1 L2614.7 615.0 L2589.7 638.4 L2556.1 659.0 L2522.8 679.5 L2459.6 710.0 L2354.7 758.4 L2248.2 794.5 L1929.3 889.1 L1815.4 919.1 L1685.7 953.3 L1150.8 1112.0 L1022.3 1154.4 L557.7 1322.1 L520.5 1331.6 L499.5 1330.4 L491.9 1326.9 L486.0 1315.1 L484.5 1305.2 L494.4 1272.0 L518.6 1220.2 L527.5 1185.2 L525.8 1157.3 L496.9 1124.9 L459.7 1091.3 L398.1 1045.6 L346.6 1013.6 L295.0 971.5 L280.5 960.6 L237.0 919.6 L223.1 903.1 L218.4 881.5 L222.6 859.9 L219.7 838.0 L217.6 810.9 L221.4 798.2 L226.3 774.7 L256.9 740.0 L283.8 729.9 L326.6 699.5 L358.4 686.3 L405.2 669.6 L427.6 659.9 L620.8 589.6 L798.3 531.9"/>
<path d="M778.3 536.6 L1281.1 396.7 L1405.8 365.4 L1526.0 331.5 L1639.6 295.4 L1685.9 281.5 L1875.5 215.7 L2250.5 74.9 L2295.5 64.7 L2334.2 58.4 L2348.8 59.3 L2359.2 84.9 L2355.1 95.6 L2317.8 178.0 L2309.0 209.4 L2314.9 242.7 L2337.5 261.7 L2466.4 351.2 L2521.7 395.3 L2555.3 419.1 L2602.1 464.0 L2618.2 491.6 L2619.7 508.6 L2624.2 555.9 L2624.6 574.5 L2617.2 603.6 L2613.5 619.4 L2596.5 633.5 L2559.0 653.9 L2514.1 687.5 L2366.6 757.4 L1917.5 893.7 L1831.8 914.8 L1667.1 960.5 L1587.1 983.5 L1401.2 1033.3 L613.9 1306.5 L559.3 1322.8 L526.4 1333.3 L504.3 1333.9 L487.6 1325.3 L484.9 1319.3 L484.1 1302.3 L496.2 1267.5 L521.2 1213.9 L529.8 1185.7 L520.4 1145.7 L507.5 1130.3 L409.6 1056.9 L357.4 1029.9 L293.3 977.4 L238.9 928.3 L219.9 907.2 L217.7 885.6 L219.1 858.2 L217.5 830.7 L217.3 815.5 L221.1 795.2 L228.0 771.0 L258.2 744.8 L278.3 733.5 L319.7 710.2 L396.9 672.4 L419.3 658.1 L505.9 627.1 L660.7 576.4 L734.9 550.6"/>
<path d="M791.5 533.3 L1156.2 430.3 L1315.0 386.7 L1357.4 376.5 L1523.3 329.9 L1650.0 291.1 L1684.0 280.8 L1898.5 205.2 L2000.1 170.7 L2092.4 135.9 L2255.2 73.1 L2298.9 64.0 L2334.2 58.1 L2348.9 61.2 L2358.0 78.1 L2355.7 101.5 L2342.0 133.2 L2317.1 184.0 L2309.2 216.2 L2309.1 232.9 L2334.9 260.3 L2417.6 321.1 L2474.7 356.3 L2545.5 415.5 L2584.7 454.2 L2599.9 471.4 L2616.3 490.3 L2623.2 506.2 L2625.3 527.1 L2626.2 558.6 L2624.7 576.3 L2614.5 618.7 L2596.9 633.8 L2547.9 662.1 L2516.5 684.8 L2436.9 721.3 L2359.1 761.4 L2251.1 794.8 L1947.8 884.6 L1843.0 913.5 L1571.3 989.2 L1408.8 1032.1 L1181.7 1103.8 L1024.2 1153.8 L877.7 1210.1 L703.6 1271.1 L614.1 1307.2 L567.1 1322.0 L527.4 1334.2 L504.6 1333.8 L488.4 1326.5 L482.8 1315.5 L484.1 1301.1 L523.1 1207.5 L528.4 1193.5 L525.0 1158.0 L498.2 1126.0 L449.2 1089.2 L402.2 1053.1 L341.0 1016.6 L234.6 930.4 L220.5 908.8 L218.2 880.2 L218.5 858.8 L219.7 839.3 L216.8 811.7 L220.6 794.2 L225.6 778.2 L255.4 746.3 L276.3 735.2 L321.6 703.5 L370.2 681.2 L405.0 665.9 L430.4 651.4 L506.6 623.9 L651.1 579.6 L801.7 531.6"/>
<path d="M795.0 537.1 L1292.5 395.5 L1519.3 332.9 L1633.0 298.6 L1675.8 286.6 L1905.1 204.7 L1994.0 174.7 L2130.2 125.1 L2232.6 83.4 L2296.7 66.0 L2325.1 60.0 L2348.9 63.9 L2356.3 85.0 L2354.4 97.1 L2313.3 187.6 L2307.5 205.3 L2308.5 240.8 L2343.0 268.8 L2405.0 312.3 L2482.6 365.2 L2515.2 398.0 L2552.3 427.9 L2576.7 453.6 L2615.7 492.7 L2621.4 505.9 L2620.1 578.5 L2618.3 598.2 L2612.9 619.4 L2596.6 630.2 L2550.9 656.7 L2524.3 676.0 L2456.2 711.4 L2354.6 757.4 L1831.5 913.5 L1658.3 961.1 L1583.9 982.0 L1443.3 1019.2 L1181.6 1100.6 L922.0 1192.7 L619.8 1303.8 L528.7 1332.3 L505.8 1331.6 L489.3 1326.0 L486.0 1317.9 L485.1 1305.0 L495.2 1276.1 L519.9 1219.9 L528.5 1194.3 L524.2 1151.4 L504.7 1130.3 L451.3 1083.8 L388.9 1041.5 L342.2 1012.2 L302.1 977.6 L273.6 953.2 L242.0 920.4 L226.8 895.6 L221.8 889.1 L220.7 866.7 L221.8 812.4 L224.7 792.0 L228.7 778.5 L259.9 746.9 L288.4 736.2 L316.5 717.3 L379.3 682.9 L399.9 672.7 L434.4 656.3 L623.1 588.0 L785.3 535.2"/>
<path d="M788.5 536.2 L1153.9 432.2 L1274.8 398.6 L1371.2 373.8 L1678.9 284.3 L1876.2 214.7 L2018.6 163.8 L2228.7 83.9 L2336.2 57.5 L2350.4 60.7 L2358.2 76.8 L2355.1 98.0 L2343.3 121.9 L2314.9 187.0 L2311.0 212.7 L2315.3 238.6 L2336.5 263.2 L2421.2 319.5 L2533.2 401.4 L2554.9 424.2 L2580.9 449.6 L2596.4 463.8 L2618.3 489.7 L2625.2 502.4 L2620.2 530.2 L2623.8 558.0 L2625.2 576.2 L2619.4 601.6 L2618.0 614.5 L2600.9 632.2 L2512.5 690.3 L2439.2 723.2 L2384.6 749.8 L1981.2 875.0 L1675.2 957.3 L1588.8 983.1 L894.0 1204.3 L768.9 1247.4 L558.0 1323.2 L517.8 1333.7 L503.8 1333.2 L490.6 1327.6 L484.2 1314.2 L482.9 1304.5 L495.4 1268.0 L523.7 1208.3 L527.4 1186.9 L523.0 1148.3 L488.3 1117.7 L438.4 1077.1 L386.2 1040.8 L333.9 1009.8 L296.0 973.0 L280.0 958.3 L246.0 925.4 L229.1 904.8 L221.7 886.3 L217.9 831.0 L216.4 817.4 L221.1 796.8 L225.6 774.4 L242.9 751.0 L268.9 735.5 L316.1 704.4 L398.4 672.7 L432.1 656.4 L510.6 627.9 L618.0 590.6 L796.7 533.0"/>
<path d="M754.3 549.5 L1120.2 443.6 L1302.5 391.3 L1466.7 347.8 L1645.1 295.2 L2087.5 140.4 L2235.7 82.7 L2298.7 64.3 L2330.8 59.3 L2354.1 66.9 L2356.9 85.2 L2353.7 99.2 L2317.2 177.8 L2307.4 209.0 L2306.4 234.2 L2343.4 268.3 L2421.2 325.4 L2464.9 351.5 L2520.2 402.4 L2548.4 423.0 L2578.6 451.2 L2612.1 488.2 L2620.7 507.2 L2619.0 535.8 L2621.1 555.5 L2623.0 570.4 L2610.8 619.0 L2597.9 627.9 L2560.9 649.1 L2529.1 675.0 L2379.9 746.9 L2194.5 810.2 L1812.1 920.1 L1591.2 980.4 L1409.7 1028.8 L1119.7 1120.4 L865.5 1213.8 L731.5 1260.4 L607.1 1308.4 L561.7 1322.3 L523.3 1331.8 L506.4 1332.3 L488.2 1325.7 L484.8 1315.9 L484.8 1304.2 L498.5 1264.7 L522.1 1212.2 L530.1 1182.9 L526.1 1150.1 L492.5 1113.4 L446.4 1079.6 L405.2 1050.9 L350.6 1019.2 L297.6 972.5 L276.6 953.9 L244.7 922.6 L222.9 898.8 L224.7 885.7 L219.7 813.2 L223.2 789.5 L226.4 779.5 L251.7 749.8 L282.8 733.4 L326.9 701.8 L395.9 673.3 L419.6 662.2 L519.9 623.9 L625.4 587.7 L768.1 544.4"/>
<path d="M747.1 550.5 L1384.7 372.1 L1519.1 334.5 L1647.6 294.9 L1684.0 282.8 L1913.2 202.6 L2017.8 166.1 L2254.8 73.9 L2293.8 65.2 L2327.0 58.9 L2349.2 63.6 L2355.6 83.6 L2354.7 97.0 L2315.1 186.1 L2307.8 211.6 L2311.1 241.5 L2340.3 266.8 L2456.1 343.9 L2515.0 395.7 L2546.6 424.5 L2584.4 455.8 L2602.5 473.0 L2609.5 490.3 L2618.7 504.5 L2619.9 537.8 L2620.3 552.8 L2621.6 577.6 L2616.4 601.0 L2611.5 614.0 L2593.3 632.5 L2550.2 656.2 L2526.7 675.9 L2454.2 715.3 L2383.5 751.7 L2168.2 818.4 L1959.4 880.7 L1847.3 910.8 L1595.6 979.6 L1401.4 1033.2 L1185.7 1101.6 L984.4 1166.7 L903.4 1199.6 L752.1 1251.4 L610.7 1303.9 L566.4 1318.0 L519.2 1332.3 L504.7 1331.7 L488.8 1324.8 L486.7 1318.6 L487.9 1300.7 L494.1 1281.9 L521.7 1218.0 L532.7 1183.4 L532.3 1158.6 L495.7 1118.3 L402.9 1051.4 L344.1 1015.2 L308.9 986.3 L273.6 953.6 L246.1 927.0 L226.5 903.2 L220.2 889.2 L221.7 866.9 L220.3 835.6 L217.8 820.5 L223.9 793.3 L230.5 775.0 L258.8 748.1 L288.0 736.3 L331.9 708.7 L371.3 688.5 L407.8 670.0 L430.3 656.7 L520.1 624.7 L629.4 586.9 L750.7 550.0"/>
<path d="M778.6 537.0 L1302.0 389.1 L1986.1 175.0 L2100.0 132.0 L2237.2 77.8 L2303.8 60.8 L2334.4 57.6 L2350.8 59.9 L2361.6 81.2 L2358.3 96.2 L2320.6 178.2 L2311.6 214.8 L2315.2 233.1 L2351.9 264.1 L2484.0 364.6 L2530.6 401.3 L2551.8 415.1 L2587.7 448.9 L2599.9 462.6 L2621.2 484.3 L2623.6 512.8 L2621.0 536.9 L2622.7 579.8 L2614.3 616.1 L2588.2 640.4 L2555.7 662.7 L2525.2 686.0 L2469.3 712.4 L2343.5 767.2 L2235.8 799.9 L1704.0 952.0 L1529.9 999.7 L1390.4 1039.8 L1147.2 1115.3 L1028.1 1154.4 L883.7 1210.4 L728.2 1263.5 L605.0 1309.6 L571.0 1320.9 L518.8 1334.5 L503.9 1333.2 L486.6 1327.6 L482.0 1314.2 L483.8 1299.8 L497.8 1264.0 L520.2 1217.8 L525.9 1188.2 L518.0 1145.9 L499.5 1130.3 L459.2 1095.6 L409.8 1059.8 L333.3 1016.0 L230.8 923.0 L217.5 905.6 L214.5 887.1 L216.7 866.3 L214.9 831.6 L216.0 814.7 L225.1 771.5 L257.2 740.4 L273.1 737.1 L326.1 701.2 L361.0 686.5 L397.9 670.2 L417.9 655.9 L637.8 581.4 L816.0 525.4"/>
<path d="M759.0 548.7 L1468.9 348.8 L1640.5 297.5 L1925.9 198.2 L2013.4 166.7 L2130.4 123.7 L2241.2 79.6 L2290.7 66.3 L2333.7 58.5 L2348.7 61.7 L2359.6 84.8 L2352.3 101.0 L2315.8 183.5 L2307.0 216.4 L2308.7 236.7 L2334.4 262.4 L2404.9 309.7 L2482.9 364.6 L2553.6 423.9 L2573.4 449.6 L2600.1 473.7 L2610.1 490.4 L2619.3 513.4 L2616.1 538.2 L2620.6 555.6 L2622.7 573.7 L2618.4 602.6 L2615.5 615.1 L2596.1 635.6 L2529.5 675.9 L2435.2 721.4 L2372.6 750.1 L1942.4 883.8 L1683.8 953.9 L1589.9 980.3 L1124.5 1118.5 L610.8 1304.8 L521.8 1332.9 L500.8 1330.1 L493.5 1326.6 L486.6 1319.0 L485.2 1307.2 L499.2 1271.0 L525.9 1209.4 L533.2 1178.9 L531.1 1156.1 L508.0 1128.6 L452.3 1082.2 L403.5 1049.1 L342.1 1006.4 L296.9 969.2 L282.0 958.8 L246.5 916.8 L227.4 899.3 L220.6 884.3 L219.9 861.2 L221.1 830.9 L220.2 821.2 L224.9 793.4 L228.6 777.6 L247.1 752.8 L277.7 735.4 L332.2 699.9 L377.2 683.7 L399.0 672.2 L429.4 659.0 L655.8 580.0 L759.1 547.1"/>
<path d="M818.8 526.7 L1529.6 329.4 L1642.7 294.5 L1677.0 284.9 L1923.8 198.5 L2005.4 170.7 L2243.4 77.4 L2286.5 65.7 L2333.4 57.1 L2351.5 61.2 L2358.4 83.5 L2352.5 101.0 L2334.8 140.7 L2317.2 178.9 L2309.5 210.1 L2315.0 241.9 L2344.6 271.0 L2387.8 297.6 L2479.5 361.2 L2526.5 401.6 L2552.6 423.3 L2604.3 474.2 L2618.2 490.3 L2621.4 507.5 L2625.1 571.4 L2620.2 595.1 L2612.9 616.9 L2593.2 636.7 L2559.3 658.3 L2516.5 691.3 L2429.8 728.4 L2344.9 765.0 L2220.3 803.6 L1783.3 926.9 L1673.4 956.2 L1595.6 980.0 L1410.3 1030.2 L1135.0 1117.4 L996.7 1163.0 L920.5 1194.0 L740.4 1256.8 L625.7 1301.0 L567.4 1320.8 L520.6 1334.0 L502.7 1333.1 L492.8 1328.1 L486.8 1319.9 L487.4 1300.2 L497.2 1271.1 L519.8 1218.5 L529.3 1177.9 L523.5 1152.9 L496.6 1123.7 L446.8 1081.9 L398.5 1045.7 L336.1 1008.1 L296.8 978.6 L240.0 924.7 L225.8 904.0 L221.0 884.2 L222.2 834.3 L219.2 813.6 L222.7 791.6 L227.6 779.5 L254.4 752.8 L281.1 735.8 L326.0 705.6 L378.4 682.0 L429.6 652.0 L735.6 549.4"/>
<path d="M821.9 524.4 L1164.3 430.3 L1276.0 398.4 L1358.9 376.8 L1478.4 343.9 L1634.2 297.4 L2005.0 168.8 L2101.1 134.9 L2240.2 78.7 L2286.1 65.2 L2323.7 56.7 L2354.0 61.2 L2362.1 77.2 L2357.4 96.9 L2340.0 136.5 L2318.3 181.5 L2311.1 212.5 L2315.5 244.7 L2348.9 267.7 L2394.3 296.1 L2470.8 351.5 L2524.5 398.4 L2551.1 421.7 L2581.6 451.2 L2605.2 468.7 L2617.3 487.5 L2622.9 506.3 L2623.5 573.2 L2620.5 596.0 L2614.6 618.8 L2593.3 641.5 L2567.9 654.4 L2528.1 687.2 L2450.8 718.5 L2353.7 765.1 L1915.6 895.4 L1857.2 910.1 L1716.6 947.1 L1580.1 986.2 L1442.5 1022.0 L1147.7 1113.6 L888.6 1206.9 L730.9 1261.5 L604.2 1310.4 L549.3 1326.1 L520.7 1333.0 L505.1 1332.5 L488.2 1327.5 L482.5 1316.7 L483.5 1301.8 L491.8 1277.0 L523.2 1208.9 L527.2 1188.5 L524.3 1154.9 L492.8 1120.7 L440.1 1078.3 L402.3 1049.8 L351.0 1020.9 L302.3 980.2 L238.0 925.4 L226.6 905.2 L221.2 878.6 L220.7 839.9 L220.5 814.2 L224.8 779.9 L250.7 746.5 L275.9 737.2 L314.8 710.4 L359.4 687.1 L404.7 667.6 L429.7 656.5 L634.3 583.7 L796.3 533.7"/>
<path d="M754.3 548.5 L1185.9 426.4 L1288.7 396.1 L1646.4 294.7 L1686.4 283.3 L1924.4 199.1 L1985.5 178.7 L2091.6 141.0 L2236.8 81.8 L2291.9 66.7 L2328.7 58.6 L2354.4 65.2 L2358.3 82.3 L2352.8 101.1 L2335.6 135.2 L2311.6 187.6 L2306.1 210.3 L2310.1 238.7 L2342.6 269.9 L2465.8 352.4 L2516.2 399.1 L2552.5 425.3 L2585.2 457.9 L2596.6 468.8 L2612.7 489.0 L2617.3 510.3 L2614.9 526.0 L2617.2 557.2 L2618.2 571.0 L2618.3 594.7 L2613.9 613.2 L2600.7 630.5 L2514.7 687.8 L2465.2 711.6 L2343.8 764.8 L2206.1 806.2 L1921.5 891.1 L1849.3 908.8 L1527.0 996.6 L1400.1 1031.5 L1186.6 1099.1 L918.9 1193.9 L750.5 1252.6 L621.2 1301.3 L518.2 1331.6 L499.8 1329.0 L490.5 1324.4 L485.7 1317.2 L486.1 1304.2 L496.4 1276.8 L522.2 1216.7 L531.0 1184.6 L527.9 1157.1 L506.0 1127.0 L436.6 1071.8 L394.1 1041.1 L351.0 1015.8 L311.5 983.1 L273.3 951.9 L246.1 917.1 L234.0 902.1 L226.7 878.5 L225.5 860.1 L223.0 816.2 L223.6 792.6 L228.4 781.1 L253.1 758.6 L281.4 740.4 L319.7 711.5 L405.5 671.0 L427.5 664.0 L538.2 620.2 L649.1 582.7 L741.9 551.5"/>
<path d="M746.1 550.1 L1180.9 425.9 L1267.4 401.6 L1525.5 331.4 L1629.3 299.2 L2127.7 124.2 L2226.4 83.9 L2305.1 63.7 L2324.4 59.1 L2352.1 65.6 L2356.1 83.0 L2352.1 100.8 L2339.3 130.3 L2314.6 182.6 L2305.7 204.9 L2311.2 249.1 L2330.6 262.8 L2406.9 316.7 L2474.0 359.5 L2527.0 403.1 L2549.4 417.9 L2585.2 453.0 L2596.1 464.0 L2615.2 495.2 L2615.7 503.7 L2619.1 531.5 L2620.9 570.7 L2618.8 599.6 L2615.4 611.3 L2592.8 633.7 L2523.1 682.1 L2441.3 719.5 L2372.5 752.4 L2235.0 796.8 L1922.7 889.3 L1782.8 926.2 L1699.7 949.6 L1429.3 1024.2 L1153.8 1109.9 L743.4 1254.1 L524.6 1330.7 L506.9 1330.4 L492.5 1328.4 L485.4 1313.7 L487.0 1303.3 L497.8 1268.4 L523.5 1214.2 L530.7 1191.4 L529.1 1160.0 L502.4 1126.6 L464.1 1092.1 L412.6 1057.0 L342.4 1015.9 L302.8 980.3 L269.8 951.0 L238.4 917.6 L223.9 903.0 L219.2 879.2 L221.9 864.3 L217.3 815.8 L221.8 796.7 L228.6 774.4 L255.8 742.9 L274.1 738.3 L327.4 703.3 L395.8 673.2 L422.9 662.9 L516.9 624.2 L611.2 592.3 L737.3 550.2"/>
<path d="M813.1 532.2 L1165.4 431.5 L1470.6 347.7 L1631.4 300.2 L1671.0 288.4 L1971.4 182.1 L2094.5 138.1 L2240.8 81.4 L2292.6 68.0 L2328.0 60.1 L2348.9 64.4 L2357.0 79.4 L2354.6 98.9 L2339.6 131.8 L2313.3 187.9 L2306.3 212.0 L2310.3 245.6 L2338.9 273.7 L2402.7 317.3 L2518.0 402.4 L2540.5 419.5 L2581.7 453.9 L2613.3 497.9 L2619.3 509.5 L2617.9 533.7 L2619.7 562.7 L2620.1 579.4 L2616.0 601.2 L2614.5 612.6 L2590.0 638.1 L2560.2 648.6 L2511.2 681.3 L2430.4 720.5 L2333.3 767.6 L2198.0 809.2 L1960.0 879.8 L1664.7 958.7 L1439.9 1020.9 L863.4 1214.0 L605.1 1306.2 L559.7 1321.2 L527.9 1331.8 L499.5 1329.9 L492.0 1327.9 L485.1 1314.8 L486.3 1302.0 L493.2 1278.5 L519.7 1223.9 L529.5 1188.6 L527.5 1155.4 L506.0 1130.3 L437.3 1073.3 L413.7 1053.6 L337.7 1007.0 L300.7 975.3 L281.0 957.4 L242.0 919.8 L224.8 899.1 L222.1 889.3 L224.6 865.3 L222.4 839.9 L221.9 820.7 L223.8 798.1 L227.2 779.0 L254.8 750.2 L287.8 734.7 L321.8 710.2 L374.3 684.1 L397.7 672.7 L426.8 661.6 L514.1 629.1 L625.2 589.7 L776.1 539.9"/>
<path d="M752.2 544.0 L1135.4 435.8 L1307.4 387.6 L1500.4 337.0 L1678.4 282.7 L1982.4 176.6 L2230.5 80.8 L2304.9 60.2 L2328.0 57.5 L2355.8 66.4 L2358.5 77.2 L2357.9 98.2 L2337.7 140.2 L2318.8 178.1 L2308.7 210.8 L2312.7 233.9 L2347.4 270.4 L2459.2 347.3 L2524.7 399.9 L2557.0 427.1 L2617.8 483.3 L2621.4 511.6 L2621.8 525.7 L2623.8 577.0 L2621.3 597.6 L2615.7 615.9 L2597.3 632.4 L2566.2 650.8 L2529.1 681.8 L2333.9 768.0 L2182.3 815.2 L1954.2 882.5 L1798.7 924.1 L1678.0 958.1 L1595.8 981.8 L1402.7 1034.0 L986.8 1167.5 L885.9 1206.7 L742.3 1257.7 L607.1 1309.4 L552.2 1325.2 L520.2 1333.3 L503.5 1333.6 L491.3 1329.7 L484.7 1317.8 L482.6 1306.1 L492.8 1275.4 L520.0 1217.0 L526.2 1193.5 L523.1 1151.6 L496.9 1125.0 L389.5 1046.7 L344.2 1023.3 L268.6 951.6 L240.5 925.7 L225.0 906.5 L216.4 883.6 L217.4 830.9 L215.6 814.4 L227.4 771.3 L252.7 746.3 L284.8 732.6 L319.8 704.6 L378.1 681.7 L421.1 656.7 L521.9 620.2 L767.7 539.5"/>
<path d="M751.7 547.3 L1140.8 437.9 L1406.1 364.4 L1535.7 327.1 L1639.6 295.8 L1677.2 284.2 L2000.0 169.6 L2123.2 125.6 L2240.0 78.0 L2324.8 56.8 L2352.7 61.6 L2360.6 75.4 L2356.8 102.2 L2315.4 188.2 L2313.3 203.3 L2318.2 247.0 L2347.1 272.6 L2413.9 315.6 L2483.3 365.6 L2526.4 405.1 L2558.5 428.5 L2576.7 445.7 L2600.5 473.8 L2613.9 494.9 L2621.6 510.2 L2619.0 524.9 L2623.7 573.8 L2619.8 600.4 L2611.9 620.0 L2600.0 636.8 L2553.3 664.6 L2510.8 689.1 L2439.3 722.7 L2349.9 763.3 L1930.3 889.6 L1793.8 926.6 L1708.6 949.8 L1585.2 983.5 L1392.7 1037.3 L1139.3 1117.8 L1003.5 1161.0 L872.5 1212.6 L769.1 1246.6 L608.1 1309.1 L558.3 1324.6 L519.2 1335.1 L500.3 1332.5 L490.6 1329.9 L482.3 1315.3 L481.4 1306.4 L492.5 1274.3 L519.3 1220.7 L529.7 1187.8 L524.8 1149.7 L497.7 1125.4 L449.5 1086.8 L403.1 1051.8 L341.1 1012.4 L305.5 986.1 L275.5 955.1 L241.4 917.3 L223.8 899.0 L219.4 879.0 L220.0 858.0 L219.4 838.6 L218.1 813.9 L222.0 796.8 L229.1 771.3 L250.7 747.8 L284.6 734.4 L325.9 708.2 L401.0 669.7 L427.3 658.9 L496.6 629.1 L624.6 587.7 L795.8 532.7"/>
<path d="M756.6 541.6 L1177.3 424.3 L1296.0 391.6 L1505.5 334.5 L1640.9 294.3 L1681.4 280.8 L1908.2 201.1 L1996.2 171.5 L2115.3 127.8 L2231.1 81.9 L2295.3 62.1 L2334.3 57.1 L2352.9 62.0 L2361.6 76.2 L2357.7 101.3 L2337.2 142.9 L2318.2 184.1 L2313.2 216.0 L2312.2 233.6 L2346.2 267.4 L2416.6 312.6 L2468.1 350.9 L2532.3 404.0 L2559.5 420.3 L2581.4 442.6 L2622.9 483.8 L2629.4 508.0 L2624.1 534.0 L2623.9 555.7 L2625.0 572.8 L2619.0 603.2 L2616.0 622.7 L2605.3 639.5 L2522.8 691.3 L2451.5 723.7 L2348.5 766.7 L2179.1 816.8 L1698.5 951.7 L1409.7 1033.5 L1191.6 1102.0 L920.0 1195.6 L733.8 1262.2 L617.4 1305.9 L566.6 1324.0 L528.8 1334.4 L503.6 1335.2 L489.1 1329.4 L481.8 1317.8 L481.5 1305.0 L493.2 1270.7 L519.3 1216.3 L526.2 1176.3 L523.2 1158.2 L496.5 1128.8 L435.6 1081.1 L352.0 1030.7 L293.3 979.7 L278.7 960.6 L239.2 926.5 L223.2 902.5 L219.5 888.8 L217.1 857.2 L215.8 831.0 L214.9 813.4 L218.8 797.1 L227.5 771.2 L251.7 739.5 L275.4 729.0 L320.3 697.9 L367.7 679.4 L403.3 666.8 L419.6 652.8 L508.3 620.5 L664.3 573.1 L780.6 534.0"/>
<path d="M230.0 770.2 L222.9 793.8 L194.4 823.5 L197.6 848.7 L190.8 865.9 L195.5 874.8 L201.9 886.8 L212.7 904.2 L228.6 927.9 L246.1 937.0"/>
<path d="M231.7 768.3 L225.4 793.7 L192.1 823.2 L203.1 845.8 L194.0 871.0 L193.5 878.4 L199.1 889.4 L211.4 910.5 L230.2 921.8 L244.5 934.9"/>
<path d="M232.9 769.7 L224.6 791.4 L193.6 826.1 L199.8 846.7 L193.1 871.2 L193.3 878.4 L202.1 890.9 L212.9 904.3 L230.1 928.7 L247.6 936.3"/>
<path d="M231.9 768.8 L225.9 793.6 L192.0 823.5 L203.1 849.9 L208.1 863.4 L216.2 877.2 L220.2 901.1"/>
<path d="M232.5 768.2 L224.5 789.4 L195.0 825.6 L203.2 849.8 L210.8 865.0 L215.5 876.6 L221.4 898.1"/>
<path d="M229.8 769.6 L224.5 790.2 L190.3 829.9 L199.5 849.7 L213.3 860.0 L216.5 880.2 L221.6 900.4"/>
<path d="M224.2 782.5 L220.6 812.1 L203.3 843.8 L191.7 864.4 L195.3 875.2 L200.1 883.1 L211.2 907.6 L224.6 925.9 L246.5 934.2"/>
<path d="M224.5 781.9 L218.9 810.8 L205.1 843.9 L190.2 862.5 L193.2 878.7 L198.1 886.7 L212.4 905.6 L226.9 923.5 L245.5 936.4"/>
<path d="M223.2 781.5 L219.5 808.2 L204.2 843.9 L192.2 863.8 L194.1 872.9 L197.7 886.5 L213.0 903.8 L226.6 923.7 L247.3 935.8"/>
<path d="M225.4 780.7 L216.7 813.2 L206.3 841.6 L191.6 863.0 L192.2 872.5 L201.7 889.7 L209.7 905.2 L229.7 926.1 L247.2 935.4"/>
<path d="M2611.1 620.2 L2619.7 597.4 L2650.4 567.0 L2637.0 548.3 L2647.5 524.3 L2649.3 517.0 L2643.3 502.4 L2631.9 487.1 L2616.4 468.9 L2595.4 454.4"/>
<path d="M2610.5 623.5 L2618.8 595.1 L2650.6 564.0 L2641.0 544.7 L2649.6 522.5 L2649.0 515.8 L2638.6 504.3 L2631.6 488.5 L2610.4 467.1 L2596.2 454.2"/>
<path d="M2609.7 621.1 L2614.8 600.7 L2648.5 562.0 L2642.6 543.9 L2651.3 522.5 L2647.6 513.4 L2639.0 505.0 L2631.2 487.8 L2613.1 466.9 L2596.7 454.4"/>
<path d="M2610.0 621.2 L2619.1 601.0 L2650.9 566.3 L2641.8 546.6 L2631.0 528.3 L2621.7 514.6 L2620.4 493.3"/>
<path d="M2609.3 620.1 L2619.2 596.9 L2648.9 568.9 L2638.5 547.3 L2632.4 531.5 L2626.0 512.7 L2620.2 492.3"/>
<path d="M2609.6 622.8 L2619.9 602.3 L2650.3 564.8 L2641.2 543.5 L2630.2 529.3 L2621.1 515.5 L2621.9 493.4"/>
<path d="M2617.5 609.7 L2621.7 581.2 L2634.2 554.0 L2645.2 528.3 L2646.4 520.7 L2638.2 502.9 L2626.1 484.4 L2615.3 463.2 L2595.2 457.7"/>
<path d="M2616.6 610.0 L2623.4 582.8 L2639.7 549.4 L2647.8 529.0 L2649.4 515.2 L2639.8 505.2 L2629.9 486.1 L2615.0 469.4 L2595.2 457.6"/>
<path d="M2616.1 609.2 L2622.5 583.8 L2638.1 550.5 L2650.3 522.3 L2647.2 517.0 L2639.9 507.4 L2631.0 484.8 L2611.7 465.8 L2597.0 455.5"/>
<path d="M2615.4 609.0 L2620.5 576.1 L2639.0 551.6 L2647.2 522.2 L2649.9 513.5 L2639.0 504.9 L2628.4 481.3 L2611.4 468.6 L2593.6 457.2"/>
<path d="M1480.0 691.6 L1679.0 691.6 L1679.0 692.6 L1903.0 692.6 L1903.0 694.1 L2567.0 694.5 L2621.4 696.6 L2675.9 697.9 L2719.9 699.4 L2686.4 700.4 L2654.9 701.4 L2613.0 702.5 L2550.0 702.6 L2200.0 701.2 L1831.0 701.0 L1682.4 701.4 L1682.4 703.0 L1733.0 704.0 L1831.0 703.5 L2200.0 703.8 L2535.4 704.6 L2613.0 705.6 L2640.3 706.7 L2663.3 708.4 L2689.5 709.4 L2625.6 709.8 L2558.5 711.9 L2493.5 712.6 L2430.6 714.0 L2200.0 715.0 L1660.0 714.9 L1430.0 714.4"/>
</g>
<g shape-rendering="crispEdges" stroke-width="3" fill="none">
<line x1="481.3" y1="1358.6" x2="2359.4" y2="34.4" stroke="#0000ff"/>
<line x1="189.0" y1="820.5" x2="2721.0" y2="566.0" stroke="#ff0000"/>
</g>
<text x="88.2" y="1366.5" text-anchor="end">-250µA</text>
<text x="88.2" y="1234.1" text-anchor="end">-200µA</text>
<text x="88.2" y="1101.7" text-anchor="end">-150µA</text>
<text x="88.2" y="969.3" text-anchor="end">-100µA</text>
<text x="88.2" y="836.9" text-anchor="end">-50µA</text>
<text x="88.2" y="704.5" text-anchor="end">0µA</text>
<text x="88.2" y="572.1" text-anchor="end">50µA</text>
<text x="88.2" y="439.7" text-anchor="end">100µA</text>
<text x="88.2" y="307.3" text-anchor="end">150µA</text>
<text x="88.2" y="174.9" text-anchor="end">200µA</text>
<text x="88.2" y="42.5" text-anchor="end">250µA</text>
<text x="2868.8" y="1366.5" text-anchor="end">-250µV/Ω</text>
<text x="2868.8" y="1181.1" text-anchor="end">-180µV/Ω</text>
<text x="2868.8" y="995.8" text-anchor="end">-110µV/Ω</text>
<text x="2868.8" y="810.4" text-anchor="end">-40µV/Ω</text>
<text x="2868.8" y="625.1" text-anchor="end">30µV/Ω</text>
<text x="2868.8" y="439.7" text-anchor="end">100µV/Ω</text>
<text x="2868.8" y="254.3" text-anchor="end">170µV/Ω</text>
<text x="2868.8" y="69.0" text-anchor="end">240µV/Ω</text>
<text x="105.0" y="1398.3" text-anchor="middle">-350mV</text>
<text x="367.9" y="1398.3" text-anchor="middle">-280mV</text>
<text x="630.8" y="1398.3" text-anchor="middle">-210mV</text>
<text x="893.7" y="1398.3" text-anchor="middle">-140mV</text>
<text x="1156.6" y="1398.3" text-anchor="middle">-70mV</text>
<text x="1419.5" y="1398.3" text-anchor="middle">0mV</text>
<text x="1682.4" y="1398.3" text-anchor="middle">70mV</text>
<text x="1945.3" y="1398.3" text-anchor="middle">140mV</text>
<text x="2208.2" y="1398.3" text-anchor="middle">210mV</text>
<text x="2471.1" y="1398.3" text-anchor="middle">280mV</text>
<text x="2734.0" y="1398.3" text-anchor="middle">350mV</text>
<text x="1418.6" y="1430.2" text-anchor="middle">V(n004)</text>
<text class="b" x="542.8" y="24.6" text-anchor="middle" style="fill:#00ff00;stroke:#00ff00;stroke-width:0.15px">I(R5)</text>
<text class="b" x="1418.2" y="24.6" text-anchor="middle" style="fill:#0000ff;stroke:#0000ff;stroke-width:0.15px">V(n004)/1kΩ</text>
<text class="b" x="2294.8" y="24.6" text-anchor="middle" style="fill:#ff0000;stroke:#ff0000;stroke-width:0.15px">V(n004)/7kΩ</text>
</svg></body></html>
